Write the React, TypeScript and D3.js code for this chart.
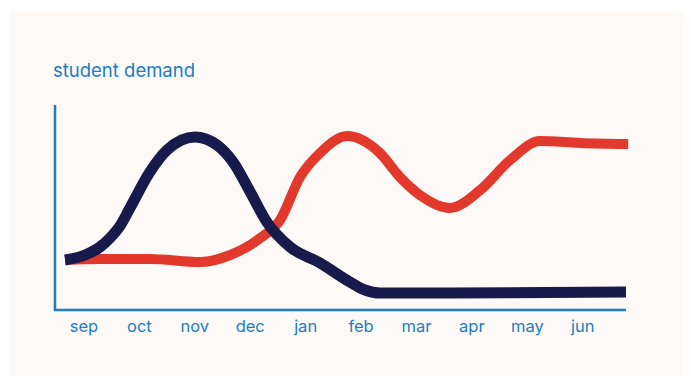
import { useMemo } from 'react';
import * as d3 from 'd3';

const months = ['sep', 'oct', 'nov', 'dec', 'jan', 'feb', 'mar', 'apr', 'may', 'jun'];

// position along the month axis (0 = sep) and demand (0-100)
const navyX = [-0.34, 0.02, 0.29, 0.47, 0.65, 0.83, 1.19, 1.5, 2.0, 2.4, 2.69, 3.0, 3.3, 3.72, 4.26, 4.8, 5.07, 5.34, 6.6, 9.78];
const navyY = [25, 27.5, 31.5, 36, 42, 51, 69, 80, 86.5, 82.5, 74, 59, 44, 31.5, 23.5, 14, 10, 8.5, 8.5, 9];

const redX = [-0.34, 0.29, 1.19, 2.09, 2.64, 3.18, 3.54, 3.9, 4.26, 4.75, 5.34, 5.7, 6.06, 6.6, 7.15, 7.69, 8.23, 8.95, 9.82];
const redY = [25, 25.5, 25.5, 24, 27.5, 36, 45, 66.5, 78.5, 87, 78.5, 66.5, 57.5, 51, 60, 75, 84.5, 83.5, 83];

const W = 691;
const H = 376;
const blue = '#1b7dc4';
const font = 'Inter, sans-serif';

export default function App() {
  const x = d3.scaleLinear().domain([-0.54, 9.78]).range([54, 626]);
  const y = d3.scaleLinear().domain([0, 100]).range([310, 110]);

  const line = d3
    .line<[number, number]>()
    .x((d) => x(d[0]))
    .y((d) => y(d[1]))
    .curve(d3.curveMonotoneX);

  const navyPath = useMemo(() => line(navyX.map((v, i) => [v, navyY[i]])), []);
  const redPath = useMemo(() => line(redX.map((v, i) => [v, redY[i]])), []);

  return (
    <svg width={W} height={H} style={{ position: 'absolute', left: 0, top: 0 }}>
      <rect x={0} y={0} width={W} height={H} fill="#ffffff" />
      <rect x={10} y={11} width={673} height={H - 11} fill="#fdf9f6" />
      <text x={53} y={77} fill={blue} fontSize={18.5} fontFamily={font}>
        student demand
      </text>
      <line x1={55} x2={55} y1={105} y2={311} stroke={blue} strokeWidth={2.5} />
      <line x1={54} x2={626} y1={310} y2={310} stroke={blue} strokeWidth={2.5} />
      {months.map((m, i) => (
        <text
          key={m}
          x={x(i)}
          y={332}
          textAnchor="middle"
          fill={blue}
          fontSize={16.5}
          fontFamily={font}
        >
          {m}
        </text>
      ))}
      <path d={redPath ?? ''} fill="none" stroke="#e3392d" strokeWidth={10} />
      <path d={navyPath ?? ''} fill="none" stroke="#171a4a" strokeWidth={11} />
    </svg>
  );
}
